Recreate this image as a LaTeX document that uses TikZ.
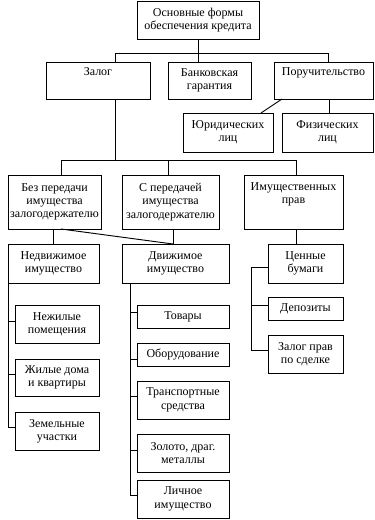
\documentclass[tikz,border=0pt]{standalone}
\usepackage{fontspec}
\setmainfont{Liberation Serif}
\newcommand\mkbox[6]{\node[box,minimum width={(#4-#2)*0.75pt},minimum height={(#5-#3)*0.75pt}] (#1) at ({(#2+#4)/2},{(#3+#5)/2}) {#6};}
\begin{document}
\begin{tikzpicture}[x=0.75pt,y=-0.75pt,
  box/.style={draw,line width=0.7pt,inner sep=1pt,align=center,font=\fontsize{9}{10}\selectfont},
  conn/.style={line width=0.7pt}]
\useasboundingbox (0,0) rectangle (374,520);
\mkbox{top}{137}{1}{259}{39}{Основные формы\\обеспечения кредита}
\mkbox{zalog}{46}{62}{150}{99}{Залог\\\strut}
\mkbox{bank}{168}{62}{251}{99}{Банковская\\гарантия}
\mkbox{poruch}{274}{62}{373}{99}{Поручительство\\\strut}
\mkbox{jur}{183}{113}{273}{152}{Юридических\\лиц}
\mkbox{fiz}{282}{113}{373}{152}{Физических\\лиц}
\mkbox{bez}{8}{175}{101}{229}{Без передачи\\имущества\\залогодержателю}
\mkbox{sper}{122}{175}{219}{229}{С передачей\\имущества\\залогодержателю}
\mkbox{imprav}{244}{175}{343}{229}{Имущественных\\прав\\\strut}
\mkbox{nedv}{8}{244}{99}{283}{Недвижимое\\имущество}
\mkbox{dvizh}{122}{244}{229}{283}{Движимое\\имущество}
\mkbox{cen}{268}{244}{343}{283}{Ценные\\бумаги}
\mkbox{nezh}{15}{305}{99}{343}{Нежилые\\помещения}
\mkbox{zhil}{15}{359}{99}{396}{Жилые дома\\и квартиры}
\mkbox{zem}{15}{412}{99}{450}{Земельные\\участки}
\mkbox{tov}{137}{305}{229}{328}{Товары}
\mkbox{obor}{137}{343}{229}{366}{Оборудование}
\mkbox{trans}{137}{381}{229}{419}{Транспортные\\средства}
\mkbox{zol}{137}{434}{229}{472}{Золото, драг.\\металлы}
\mkbox{lich}{137}{480}{229}{518}{Личное\\имущество}
\mkbox{dep}{268}{297}{343}{320}{Депозиты}
\mkbox{zpr}{268}{335}{343}{373}{Залог прав\\по сделке}
% level 1
\coordinate (hl) at (115,53);
\coordinate (hr) at (328,53);
\draw[conn] (hl |- zalog.north) -- (hl) -- (hr) -- (hr |- poruch.north);
\draw[conn] (top.south) -- (top.south |- bank.north);
% poruchitelstvo
\coordinate (pj) at (282,99);
\coordinate (jj) at (261,113);
\draw[conn] (pj) -- (jj);
\coordinate (pf) at (329,99);
\draw[conn] (pf) -- (pf |- fiz.north);
% level 2
\coordinate (h2l) at (61,160);
\coordinate (h2r) at (296,160);
\coordinate (h2m) at (168,160);
\draw[conn] (hl |- zalog.south) -- (hl |- h2l);
\draw[conn] (h2l |- bez.north) -- (h2l) -- (h2r) -- (h2r |- imprav.north);
\draw[conn] (h2m) -- (h2m |- sper.north);
% level 3
\coordinate (bn) at (53,229);
\draw[conn] (bn) -- (bn |- nedv.north);
\coordinate (bd) at (61,229);
\coordinate (dd) at (173,244);
\draw[conn] (bd) -- (dd);
\draw[conn] (dd |- sper.south) -- (dd);
\coordinate (ic) at (296,229);
\draw[conn] (ic) -- (ic |- cen.north);
% nedvizhimoe
\coordinate (nv) at (8.5,283);
\coordinate (c1) at (8.5,321);
\coordinate (c2) at (8.5,374);
\coordinate (c3) at (8.5,427);
\draw[conn] (nv) -- (c3) -- (c3 -| zem.west);
\draw[conn] (c1) -- (c1 -| nezh.west);
\draw[conn] (c2) -- (c2 -| zhil.west);
% dvizhimoe
\coordinate (dv) at (130,283);
\coordinate (d1) at (130,312);
\coordinate (d2) at (130,359);
\coordinate (d3) at (130,396);
\coordinate (d4) at (130,450);
\coordinate (d5) at (130,495);
\draw[conn] (dv) -- (d5) -- (d5 -| lich.west);
\draw[conn] (d1) -- (d1 -| tov.west);
\draw[conn] (d2) -- (d2 -| obor.west);
\draw[conn] (d3) -- (d3 -| trans.west);
\draw[conn] (d4) -- (d4 -| zol.west);
% cennye
\coordinate (e0) at (251,267);
\coordinate (e1) at (251,305);
\coordinate (e2) at (251,350);
\draw[conn] (e0 -| cen.west) -- (e0) -- (e2) -- (e2 -| zpr.west);
\draw[conn] (e1) -- (e1 -| dep.west);
\end{tikzpicture}
\end{document}
